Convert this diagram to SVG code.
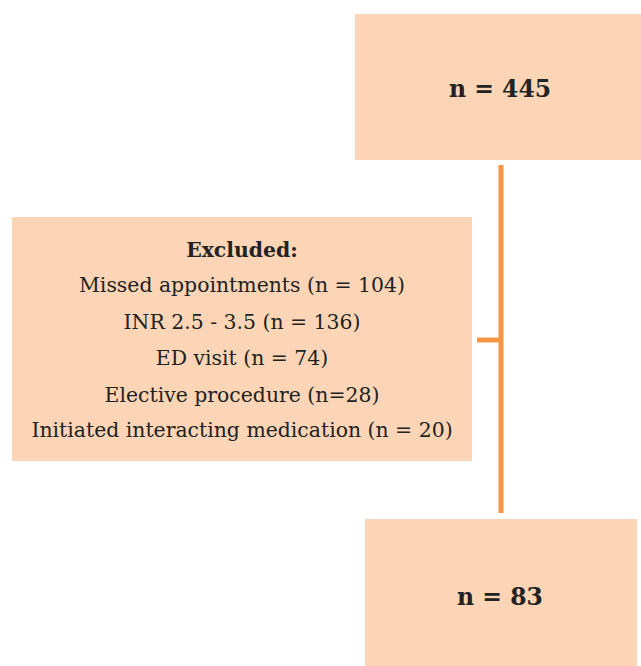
<svg xmlns="http://www.w3.org/2000/svg" width="641" height="666" viewBox="0 0 641 666">
<style>
.box{fill:#FBD5B5;}
.t{font-family:"DejaVu Serif","Liberation Serif",serif;font-size:20.4px;fill:#222;text-anchor:middle;}
.b{font-weight:bold;}
.big{font-size:23.5px;}
.c{stroke:#F79646;stroke-width:5;fill:none;}
</style>
<rect width="641" height="666" fill="#fff"/>
<g id="connectors">
<line class="c" x1="501" y1="165" x2="501" y2="513"/>
<line class="c" x1="477" y1="340" x2="501" y2="340" stroke-width="4"/>
</g>
<g id="n445">
<rect class="box" x="355" y="14" width="286" height="146"/>
<text class="t b big" x="500" y="97">n = 445</text>
</g>
<g id="excluded">
<rect class="box" x="12" y="217" width="460" height="244"/>
<text class="t b" x="242" y="257">Excluded:</text>
<text class="t" x="242" y="292">Missed appointments (n = 104)</text>
<text class="t" x="242" y="329">INR 2.5 - 3.5 (n = 136)</text>
<text class="t" x="242" y="365">ED visit (n = 74)</text>
<text class="t" x="242" y="402">Elective procedure (n=28)</text>
<text class="t" x="242" y="437">Initiated interacting medication (n = 20)</text>
</g>
<g id="n83">
<rect class="box" x="365" y="519" width="272" height="147"/>
<text class="t b big" x="500" y="605">n = 83</text>
</g>
</svg>
